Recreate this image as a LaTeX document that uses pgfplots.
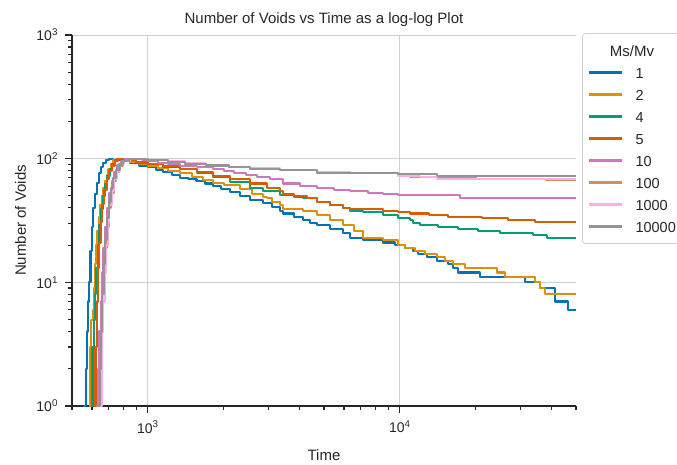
\documentclass[border=0pt]{standalone}
\usepackage{fontspec}
\setmainfont{Liberation Sans}
\usepackage{pgfplots}
\usepackage{pgfplotstable}
\pgfplotsset{compat=1.18}

% seaborn "colorblind" palette
\definecolor{cA}{HTML}{0173B2}
\definecolor{cB}{HTML}{DE8F05}
\definecolor{cC}{HTML}{029E73}
\definecolor{cD}{HTML}{D55E00}
\definecolor{cE}{HTML}{CC78BC}
\definecolor{cF}{HTML}{CA9161}
\definecolor{cG}{HTML}{FBAFE4}
\definecolor{cH}{HTML}{949494}
\definecolor{txt}{HTML}{262626}
\definecolor{gridc}{HTML}{D0D0D0}

% number of voids (n) against time (t), one table per mass ratio Ms/Mv
\pgfplotstableread{
t n
553 0.5
560 1
566 2
572 4
578 7
584 10
592 18
600 28
608 40
616 52
626 64
638 76
650 86
664 93
680 98
700 100
730 98
780 95
850 92
920 88
1000 85
1080 81
1150 78
1250 74
1340 70
1450 68
1560 66
1680 63
1810 60
1950 57
2110 54
2320 50
2540 46
2860 44
3100 41
3340 38
3430 36
3800 34
4120 32
4400 30
4690 29
5270 27
5940 25
6340 23
7130 22
8560 21
9550 20
10470 19
11270 18
11790 17
12790 16
14020 15
15500 14
16220 13
17000 12
20770 11
31360 10
35970 9
41200 7
46300 6
50000 6
}\ratioA

\pgfplotstableread{
t n
583 0.5
588 1
592 3
597 5
606 6
611 9
617 14
623 20
630 26
638 34
646 42
655 50
664 58
674 66
686 74
698 82
712 90
728 97
745 100
780 98
850 94
920 90
1000 88
1100 84
1200 80
1340 76
1500 71
1650 67
1810 64
2000 61
2320 57
2600 52
2860 49
2960 48
3100 45
3340 42
3430 39
4120 38
4690 35
5270 32
5940 29
6600 26
7130 23
8560 22
9820 20
10470 19
11500 18
12560 17
14000 16
15090 15
16220 14
18110 13
24250 12
26110 11
34370 10
35970 9
37700 8
50000 8
}\ratioB

\pgfplotstableread{
t n
594 0.5
599 1
603 3
612 5
618 8
625 13
633 20
642 29
652 39
663 50
676 62
690 73
705 83
722 91
740 97
765 99
800 97
900 93
1000 90
1150 86
1340 82
1564 76
1812 71
2114 65
2540 58
2860 55
3340 51
3800 49
4120 48
4690 45
5270 42
5940 40
6340 38
7130 37
8560 35
9820 33
10960 32
11270 30
12000 29
14150 28
16980 27
20400 26
24930 25
33750 24
38300 23
50000 23
}\ratioC

\pgfplotstableread{
t n
612 0.5
616 1
620 3
626 7
633 13
641 21
650 31
660 43
672 56
686 68
702 79
720 88
740 95
760 99
800 97
900 94
1000 91
1150 87
1340 83
1564 78
1812 73
2114 69
2540 63
2960 58
3340 55
3430 52
3800 50
4280 48
4690 45
5270 42
5940 40
6340 39
8560 38
9820 37
10960 36
13000 35
15500 34
21150 33
26840 32
34370 31
50000 31
}\ratioD

\pgfplotstableread{
t n
626 0.5
631 1
636 2
642 4
649 7
657 12
666 19
676 28
688 40
702 53
718 66
736 78
756 88
780 95
810 99
850 100
950 97
1000 95
1100 92
1200 90
1340 87
1564 85
1812 83
2000 79
2200 76
2450 74
2700 71
3050 68
3433 63
4000 60
4690 58
5500 56
6340 55
7500 53
8560 52
9820 51
17300 48
50000 48
}\ratioE

\pgfplotstableread{
t n
640 0.5
645 1
650 2
656 4
663 7
671 12
680 19
690 28
702 40
716 53
732 66
750 78
770 88
795 95
840 99
1000 97
1200 94
1400 91
1700 88
2100 85
2540 83
3340 81
4690 78
6340 76
9820 74
11000 71
20000 69
38000 67
50000 67
}\ratioF

\pgfplotstableread{
t n
648 0.5
652 1
656 2
660 4
666 7
673 12
682 20
692 30
704 42
718 55
735 68
755 80
778 90
805 96
850 100
1000 98
1200 95
1400 92
1700 89
2100 86
2540 84
3340 81
4690 78
6340 76
9820 73
12000 71
14000 69
30000 68
50000 68
}\ratioG

\pgfplotstableread{
t n
638 0.5
642 1
647 2
653 4
660 8
668 14
677 22
688 33
700 45
714 58
730 70
750 81
772 90
800 96
840 99
1000 97
1200 94
1400 91
1700 88
2100 85
2540 83
3340 81
4690 77
6340 76
9820 75
14000 73
19310 72
50000 72
}\ratioH

\begin{document}
\begin{tikzpicture}
\begin{axis}[
  at={(0pt,0pt)}, anchor=south west,
  scale only axis, width=504pt, height=371pt,
  xmode=log, ymode=log,
  xmin=500, xmax=50000, ymin=1, ymax=1000,
  axis lines=left,
  axis line style={-, line width=1.3pt, color=txt},
  tick align=outside,
  major tick length=7.5pt, minor tick length=4.5pt,
  every tick/.style={line width=1.1pt, color=txt},
  xtick={1000,10000},
  xticklabels={10\textsuperscript{3},10\textsuperscript{4}},
  minor xtick={500,600,700,800,900,2000,3000,4000,5000,6000,7000,8000,9000,20000,30000,40000,50000},
  ytick={1,10,100,1000},
  yticklabels={10\textsuperscript{0},10\textsuperscript{1},10\textsuperscript{2},10\textsuperscript{3}},
  minor ytick={2,3,4,5,6,7,8,9,20,30,40,50,60,70,80,90,200,300,400,500,600,700,800,900},
  xmajorgrids, ymajorgrids,
  major grid style={line width=0.9pt, color=gridc},
  tick label style={font=\fontsize{14}{14}\selectfont, color=txt},
  xticklabel style={yshift=-4pt},
  yticklabel style={xshift=-3pt},
  every axis title shift=0pt,
  title={Number of Voids vs Time as a log-log Plot},
  title style={at={(axis description cs:0.5,1.031)}, anchor=base,
    font=\fontsize{15}{15}\selectfont, color=txt},
  xlabel={Time},
  xlabel style={at={(axis description cs:0.5,-0.148)}, anchor=base,
    font=\fontsize{15}{15}\selectfont, color=txt},
  ylabel={Number of Voids},
  ylabel style={at={(axis description cs:-0.0913,0.5)}, anchor=base,
    font=\fontsize{15}{15}\selectfont, color=txt},
  legend cell align=left,
  legend image code/.code={%
    \draw[#1, line width=2.1pt] (0pt,0pt) -- (33pt,0pt);},
  legend style={at={(axis description cs:1.012,1.005)}, anchor=north west,
    draw=gridc, line width=0.8pt, rounded corners=3pt, fill=white,
    font=\fontsize{14.5}{14.5}\selectfont, text=txt,
    inner xsep=5pt, inner ysep=11.5pt, row sep=11pt,
    /tikz/every odd column/.append style={column sep=13pt},
    nodes={inner sep=0pt, text height=11pt, text depth=0pt}},
  every axis plot post/.append style={const plot, line width=2.1pt, line join=round},
]
\addlegendimage{empty legend}
\addlegendentry{\hspace*{-25.6pt}\fontsize{15}{15}\selectfont Ms/Mv}
\addplot[color=cA] table {\ratioA}; \addlegendentry{1}
\addplot[color=cB] table {\ratioB}; \addlegendentry{2}
\addplot[color=cC] table {\ratioC}; \addlegendentry{4}
\addplot[color=cD] table {\ratioD}; \addlegendentry{5}
\addplot[color=cE] table {\ratioE}; \addlegendentry{10}
\addplot[color=cF] table {\ratioF}; \addlegendentry{100}
\addplot[color=cG] table {\ratioG}; \addlegendentry{1000}
\addplot[color=cH] table {\ratioH}; \addlegendentry{10000}
\end{axis}
\pgfresetboundingbox
\useasboundingbox (-72pt,-58pt) rectangle (605pt,406pt);
\end{tikzpicture}
\end{document}
